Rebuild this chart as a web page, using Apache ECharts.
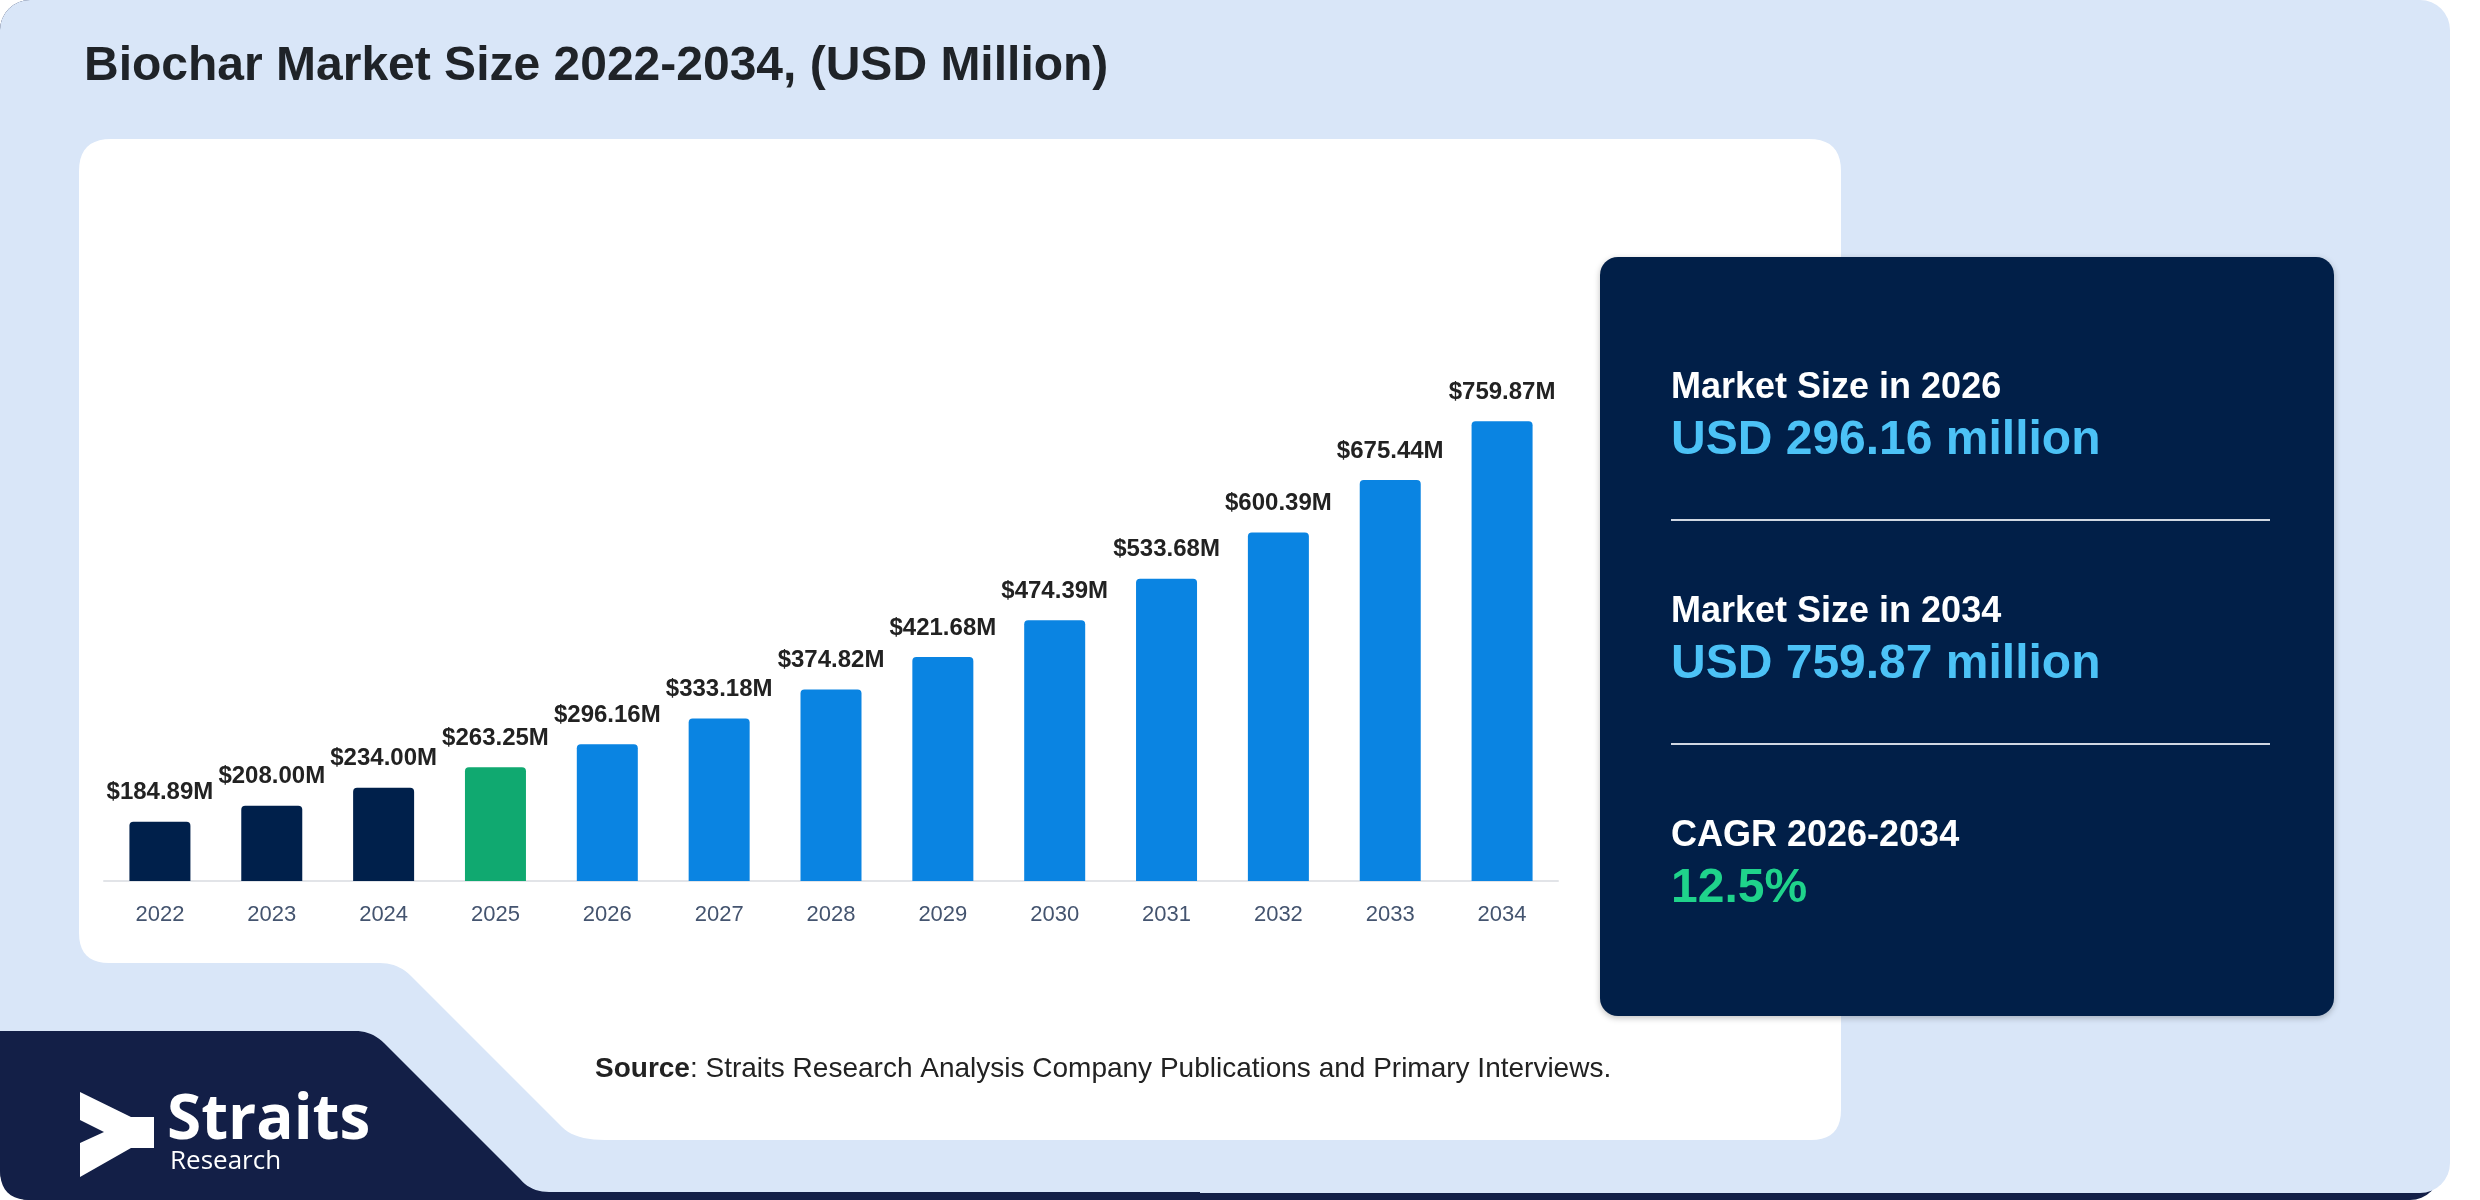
<!DOCTYPE html>
<html>
<head>
<meta charset="utf-8">
<script src="https://cdn.jsdelivr.net/npm/echarts@6/dist/echarts.min.js"></script>
<style>
html,body{margin:0;padding:0;background:#ffffff;}
#chart{width:2480px;height:1200px;}
</style>
</head>
<body>
<div id="chart"></div>
<script>
// ---- data ----
var years = ['2022','2023','2024','2025','2026','2027','2028','2029','2030','2031','2032','2033','2034'];
var marketSize = [184.89, 208.00, 234.00, 263.25, 296.16, 333.18, 374.82, 421.68, 474.39, 533.68, 600.39, 675.44, 759.87];
var baseYear = 2025;
var titleText = 'Biochar Market Size 2022-2034, (USD Million)';
var statLabels = ['Market Size in 2026', 'Market Size in 2034', 'CAGR 2026-2034'];
var statValues = ['USD 296.16 million', 'USD 759.87 million', '12.5%'];
var sourceText = 'Straits Research Analysis Company Publications and Primary Interviews.';

var NAVY = '#00204b', GREEN = '#10a970', BLUE = '#0a84e2';
function barColor(year) {
  var y = parseInt(year, 10);
  if (y < baseYear) return NAVY;
  if (y === baseYear) return GREEN;
  return BLUE;
}

// decorative outline helper: segments of [x,y] points or ['Q', cx, cy, x, y]
function outline(segs) {
  var pts = [], cur = null;
  segs.forEach(function (s) {
    if (s[0] === 'Q') {
      for (var t = 1; t <= 10; t++) {
        var u = t / 10, a = (1 - u) * (1 - u), b = 2 * u * (1 - u), c = u * u;
        pts.push([a * cur[0] + b * s[1] + c * s[3], a * cur[1] + b * s[2] + c * s[4]]);
      }
      cur = [s[3], s[4]];
    } else {
      pts.push([s[0], s[1]]);
      cur = s;
    }
  });
  return pts;
}

var chart = echarts.init(document.getElementById('chart'), null, {renderer: 'canvas'});
var FONT = '"Liberation Sans", Arial, Helvetica, sans-serif';
var DECO_NAVY = '#131f47';

var whitePanel = outline([
  [111,139],[1809,139],['Q',1841,139,1841,171],[1841,1110],['Q',1841,1140,1811,1140],
  [605,1140],['Q',575,1140,562,1127],[411,976],['Q',398,963,380,963],
  [109,963],['Q',79,963,79,933],[79,171],['Q',79,139,111,139]
]);
var navyShape = outline([
  [0,1031],[355,1031],['Q',372,1031,384,1043],[520,1179],['Q',531,1192,549,1192],
  [1200,1192],[1200,1200],[30,1200],['Q',0,1200,0,1170]
]);

var graphics = [
  {type: 'rect', z: -40, shape: {x: 0, y: 0, width: 2440, height: 1200, r: 30}, style: {fill: DECO_NAVY}},
  {type: 'rect', z: -30, shape: {x: 0, y: 0, width: 2450, height: 1193, r: 30}, style: {fill: '#d9e6f8'}},
  {type: 'polygon', z: -20, shape: {points: whitePanel}, style: {fill: '#ffffff'}},
  {type: 'polygon', z: -10, shape: {points: navyShape}, style: {fill: DECO_NAVY}},
  {type: 'rect', z: -10, shape: {x: 1600, y: 257, width: 734, height: 759, r: 18},
    style: {fill: '#011f48', shadowBlur: 6, shadowColor: 'rgba(0,0,0,0.25)', shadowOffsetY: 2}},
  {type: 'polygon', z: 5, shape: {points: [[80,1092],[131,1117],[154,1117],[154,1148],[131,1148],[80,1177],[80,1143],[104,1132],[80,1120]]},
    style: {fill: '#ffffff'}},
  {type: 'text', z: 5, x: 167, y: 1121, style: {text: 'Straits', fill: '#ffffff', font: '700 62px "Open Sans", sans-serif', verticalAlign: 'middle'}},
  {type: 'text', z: 5, x: 170, y: 1162, style: {text: 'Research', fill: '#ffffff', font: '400 26px "Open Sans", sans-serif', verticalAlign: 'middle'}},
  {type: 'text', z: 5, x: 595, y: 1069, style: {
    text: '{b|Source}: ' + sourceText, verticalAlign: 'middle',
    fill: '#222222', font: '400 28px ' + FONT,
    rich: {b: {fontWeight: 'bold', fontSize: 28, fontFamily: FONT, fill: '#222222'}}
  }}
];

var statY0 = 388, statStep = 224;
for (var i = 0; i < statLabels.length; i++) {
  var yy = statY0 + i * statStep;
  graphics.push({type: 'text', z: 5, x: 1671, y: yy, style: {text: statLabels[i], fill: '#ffffff',
    font: 'bold 36px ' + FONT, verticalAlign: 'middle', align: 'left'}});
  graphics.push({type: 'text', z: 5, x: 1671, y: yy + 53, style: {text: statValues[i],
    fill: i < 2 ? '#4cc2f6' : '#1fd38b', font: 'bold 48px ' + FONT, verticalAlign: 'middle', align: 'left'}});
  if (i < 2) {
    graphics.push({type: 'line', z: 5, shape: {x1: 1671, y1: 520 + i * statStep, x2: 2270, y2: 520 + i * statStep},
      style: {stroke: '#d0d7e2', lineWidth: 2}});
  }
}

var option = {
  backgroundColor: 'transparent',
  animation: false,
  title: {
    text: titleText, left: 79, top: 38,
    textStyle: {fontFamily: FONT, fontWeight: 'bold', fontSize: 48, color: '#1f2328'}
  },
  grid: {left: 104, right: 922, top: 254, bottom: 319, containLabel: false},
  xAxis: {
    type: 'category', data: years,
    axisLine: {show: true, lineStyle: {color: '#e2e4e8', width: 2}},
    axisTick: {show: false},
    axisLabel: {fontFamily: FONT, fontSize: 22, color: '#44546f', margin: 23}
  },
  yAxis: {type: 'value', min: 100, max: 1000, show: false, splitLine: {show: false}},
  series: [{
    type: 'bar', z: 3, barWidth: 61,
    data: marketSize.map(function (v, i) {
      return {value: v, itemStyle: {color: barColor(years[i]), borderRadius: [4, 4, 0, 0]}};
    }),
    label: {
      show: true, position: 'top', distance: 17,
      fontFamily: FONT, fontWeight: 'bold', fontSize: 24, color: '#222222',
      formatter: function (p) { return '$' + p.value.toFixed(2) + 'M'; }
    }
  }],
  graphic: graphics
};
chart.setOption(option);
</script>
</body>
</html>
